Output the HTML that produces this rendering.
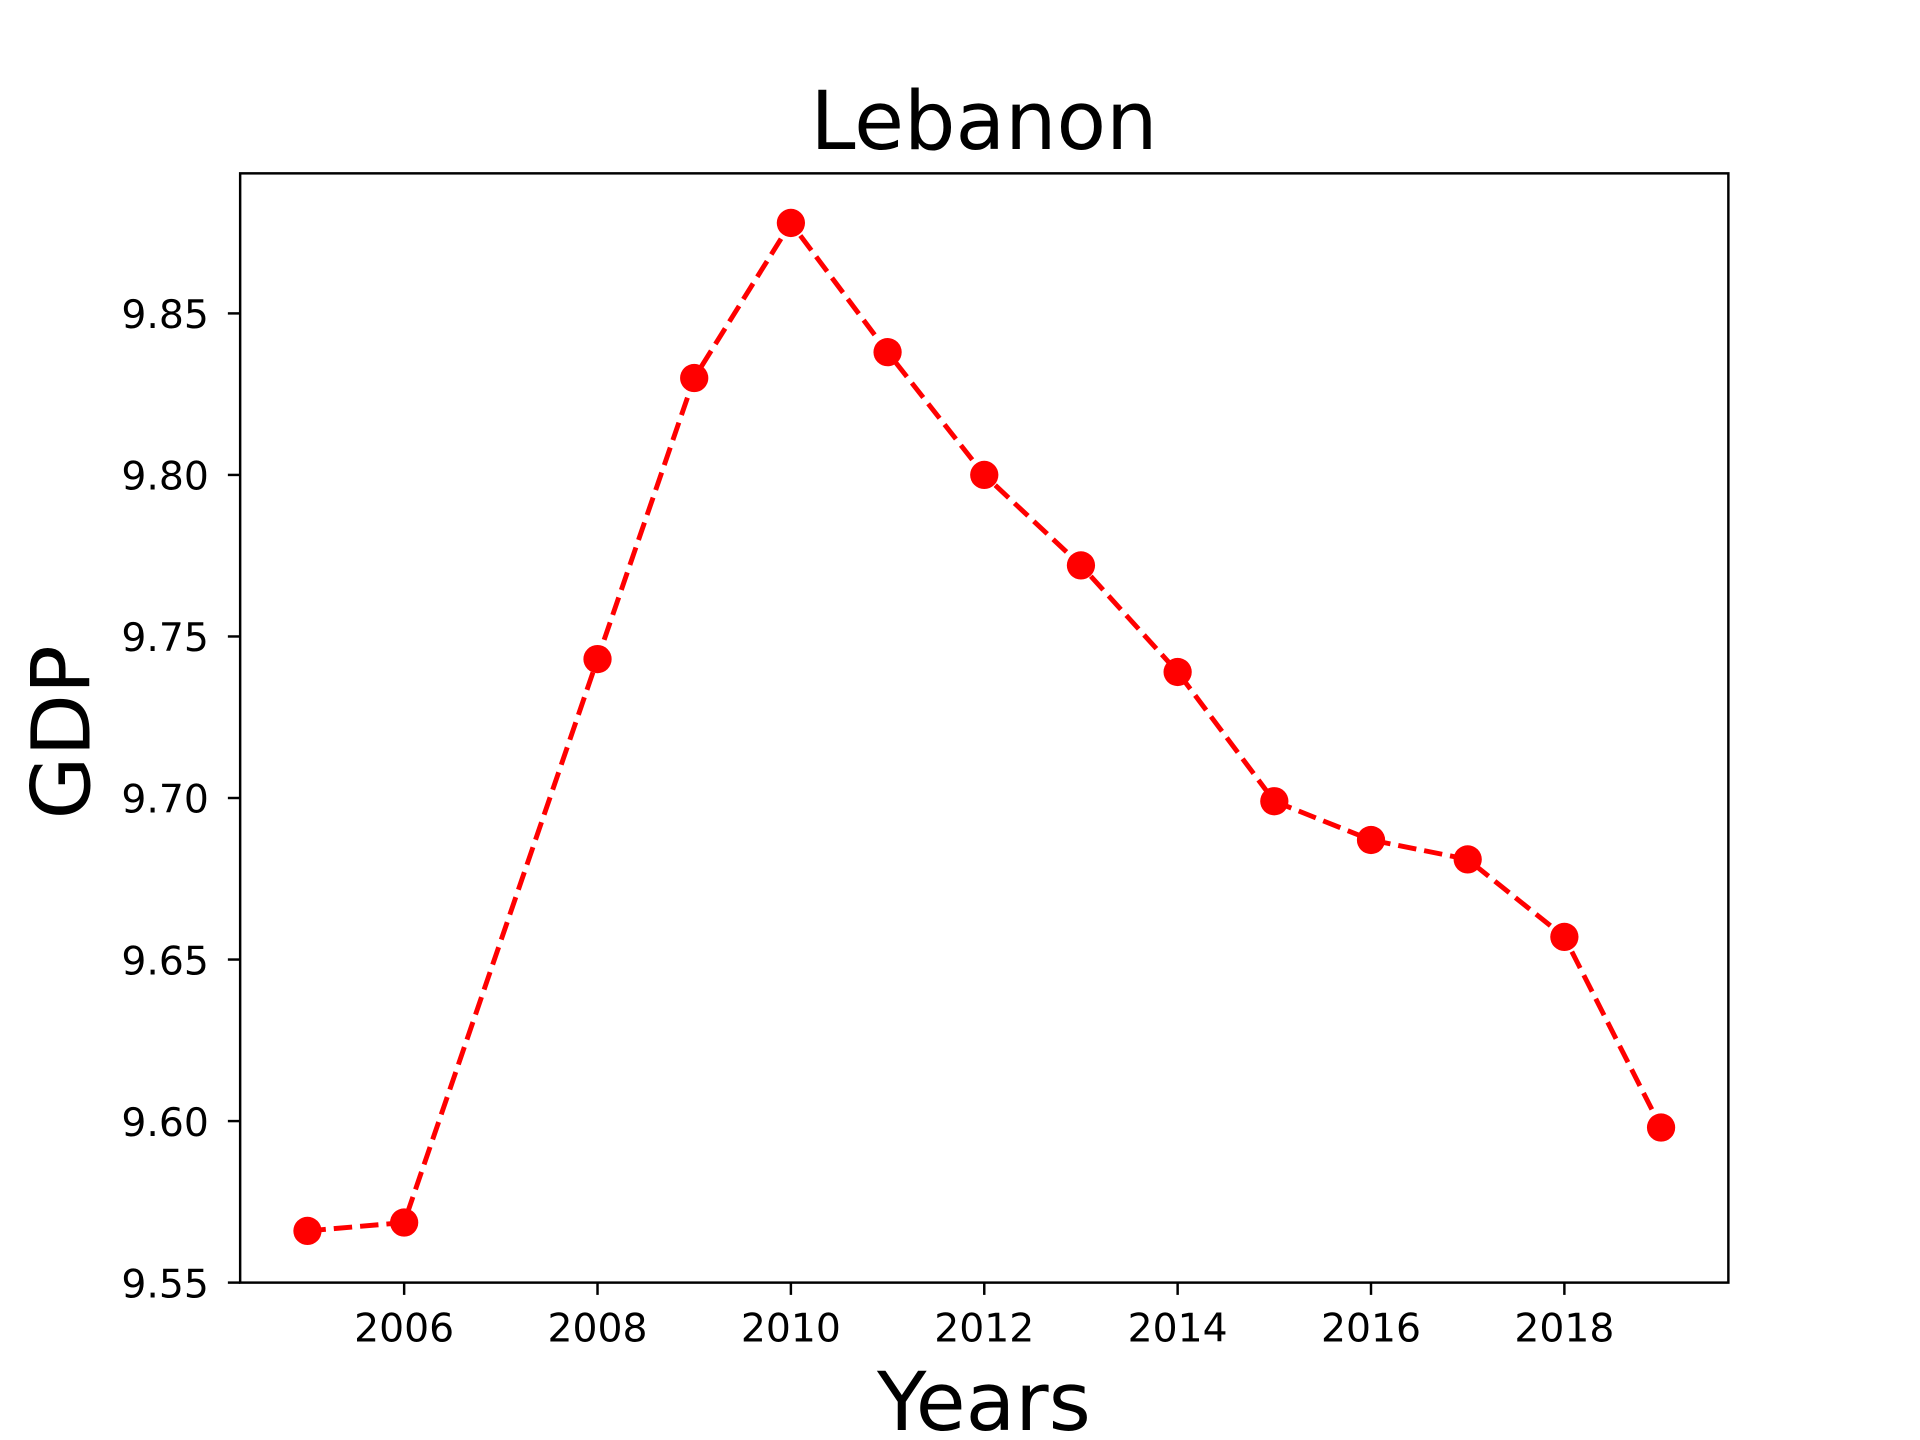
<!DOCTYPE html>
<html><head><meta charset="utf-8"><style>
html,body{margin:0;padding:0;background:#fff;}
svg{display:block;font-family:"DejaVu Sans","Liberation Sans",sans-serif;}
</style></head><body>
<svg id="chart" width="1920" height="1440" viewBox="0 0 1563 1172" xmlns="http://www.w3.org/2000/svg">
<rect width="1563" height="1172" fill="#fff"/>
<text x="801" y="121" font-size="66" text-anchor="middle">Lebanon</text>
<text x="801" y="1164" font-size="66" text-anchor="middle">Years</text>
<text transform="translate(73,596) rotate(-90)" font-size="66" text-anchor="middle">GDP</text>
<g id="axes"></g>
<g id="series"></g>
<rect x="195.5" y="141" width="1211.5" height="903" fill="none" stroke="#000" stroke-width="2"/>
</svg>
<script>
const years = [2005,2006,2008,2009,2010,2011,2012,2013,2014,2015,2016,2017,2018,2019];
const gdp = [9.566,9.5686,9.743,9.830,9.878,9.838,9.800,9.772,9.739,9.699,9.687,9.681,9.657,9.598];
const xTicks = [2006,2008,2010,2012,2014,2016,2018];
const yTicks = [9.55,9.60,9.65,9.70,9.75,9.80,9.85];
const yTickLabels = ["9.55","9.60","9.65","9.70","9.75","9.80","9.85"];

const NS = "http://www.w3.org/2000/svg";
function X(v){ return 329 + (v-2006)*(1273.5-329)/12; }
function Y(v){ return 1044 - (v-9.55)*(1044-255)/0.30; }
function mk(tag, attrs, parent){
  const e = document.createElementNS(NS, tag);
  for (const k in attrs) e.setAttribute(k, attrs[k]);
  parent.appendChild(e); return e;
}
const axes = document.getElementById('axes');
const series = document.getElementById('series');
xTicks.forEach(t=>{
  const l = mk('line',{x1:X(t),x2:X(t),y1:1044,y2:1054,stroke:'#000','stroke-width':2},axes);
  
  
  const tx = mk('text',{x:X(t),y:1092,'font-size':32,'text-anchor':'middle'},axes);
  tx.textContent = t;
  
  
});
yTicks.forEach((t,i)=>{
  const l = mk('line',{x1:185.5,x2:195.5,y1:Y(t),y2:Y(t),stroke:'#000','stroke-width':2},axes);
  
  
  const tx = mk('text',{x:170,y:Y(t)+12,'font-size':32,'text-anchor':'end'},axes);
  tx.textContent = yTickLabels[i];
  
  
});
const pts = years.map((y,i)=>X(y)+','+Y(gdp[i])).join(' ');
const line = mk('polyline',{points:pts,fill:'none',stroke:'#ff0000','stroke-width':4,'stroke-dasharray':'15,6.5'},series);


years.forEach((y,i)=>{
  const c = mk('circle',{cx:X(y),cy:Y(gdp[i]),r:11.5,fill:'#ff0000'},series);
  
  
});
</script>
</body></html>
